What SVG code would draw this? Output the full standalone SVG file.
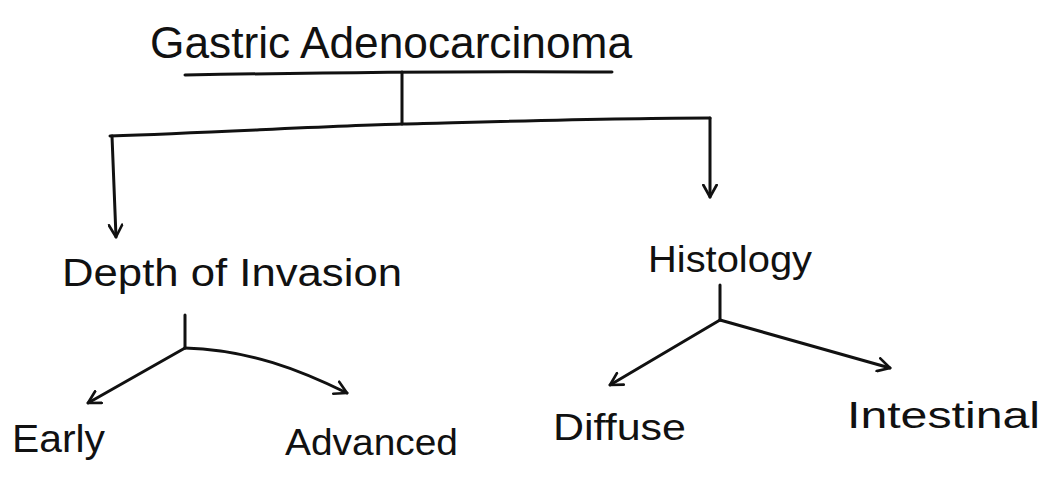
<svg xmlns="http://www.w3.org/2000/svg" width="1046" height="484" viewBox="0 0 1046 484">
  <style>
    .bg { fill: #ffffff; }
    .lbl { font-family: "Liberation Sans", "DejaVu Sans", sans-serif; fill: #111111; }
    .ln { fill: none; stroke: #111111; stroke-width: 3; stroke-linecap: round; stroke-linejoin: round; }
  </style>
  <defs>
    <marker id="arrow" viewBox="0 0 12 12" refX="10" refY="6" markerWidth="16" markerHeight="16" markerUnits="userSpaceOnUse" orient="auto">
      <path d="M1,1 L10,6 L1,11" fill="none" stroke="#111111" stroke-width="2" stroke-linecap="round" stroke-linejoin="round"/>
    </marker>
  </defs>
  <rect class="bg" x="0" y="0" width="1046" height="484"/>

  <g id="root">
    <text class="lbl" x="150" y="58" font-size="44" textLength="482" lengthAdjust="spacingAndGlyphs">Gastric Adenocarcinoma</text>
  </g>
  <g id="depth">
    <text class="lbl" x="62" y="286" font-size="38" textLength="340" lengthAdjust="spacingAndGlyphs">Depth of Invasion</text>
  </g>
  <g id="histology">
    <text class="lbl" x="648" y="272" font-size="36" textLength="164" lengthAdjust="spacingAndGlyphs">Histology</text>
  </g>
  <g id="early">
    <text class="lbl" x="12" y="452" font-size="38" textLength="93" lengthAdjust="spacingAndGlyphs">Early</text>
  </g>
  <g id="advanced">
    <text class="lbl" x="285" y="455" font-size="36" textLength="173" lengthAdjust="spacingAndGlyphs">Advanced</text>
  </g>
  <g id="diffuse">
    <text class="lbl" x="553" y="440" font-size="36" textLength="133" lengthAdjust="spacingAndGlyphs">Diffuse</text>
  </g>
  <g id="intestinal">
    <text class="lbl" x="847" y="428" font-size="36" textLength="193" lengthAdjust="spacingAndGlyphs">Intestinal</text>
  </g>

  <g id="connectors">
    <!-- underline below the title -->
    <path class="ln" d="M185,75 C300,73 480,71 612,72"/>
    <!-- stem down to the splitting bar -->
    <path class="ln" d="M402,72 L402,124"/>
    <!-- splitting bar -->
    <path class="ln" d="M110,136 C220,132 330,126 402,124 C520,121 620,118 710,118"/>
    <!-- drops to the two categories -->
    <path class="ln" d="M112,136 L116,237" marker-end="url(#arrow)"/>
    <path class="ln" d="M710,118 L710,197" marker-end="url(#arrow)"/>
    <!-- depth of invasion branches -->
    <path class="ln" d="M185,315 L185,348"/>
    <path class="ln" d="M185,348 L88,403" marker-end="url(#arrow)"/>
    <path class="ln" d="M185,348 C250,350 300,370 347,393" marker-end="url(#arrow)"/>
    <!-- histology branches -->
    <path class="ln" d="M720,285 L720,320"/>
    <path class="ln" d="M720,320 L610,385" marker-end="url(#arrow)"/>
    <path class="ln" d="M720,320 L890,368" marker-end="url(#arrow)"/>
  </g>
</svg>
